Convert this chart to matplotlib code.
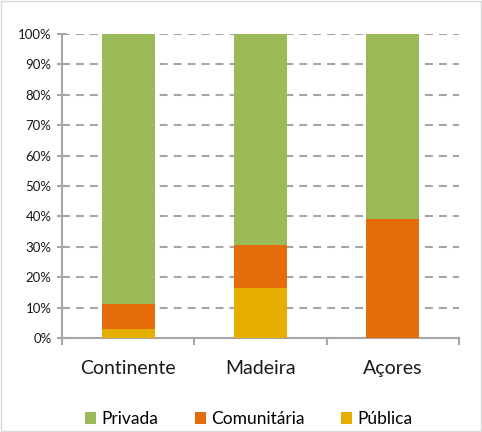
import matplotlib
matplotlib.use("Agg")
import matplotlib.pyplot as plt
from matplotlib.patches import Rectangle
import numpy as np

plt.rcParams['font.family'] = ['Lato', 'DejaVu Sans']

regions = ["Continente", "Madeira", "Açores"]
publica = [2.8, 16.4, 0.0]
comunitaria = [8.4, 14.1, 39.1]
privada = [88.8, 69.5, 60.9]

c_priv = "#9BBB59"
c_com = "#E46C0A"
c_pub = "#E6AF00"
axis_grey = "#A6A6A6"

fig = plt.figure(figsize=(4.82, 4.32), dpi=100)
ax = fig.add_axes([0.1286, 0.2176, 0.8234, 0.7037])

x = np.arange(len(regions))
w = 0.4
pub = np.array(publica)
com = np.array(comunitaria)
pri = np.array(privada)
b1 = ax.bar(x, pub, w, color=c_pub, label="Pública", zorder=3)
b2 = ax.bar(x, com, w, bottom=pub, color=c_com, label="Comunitária", zorder=3)
b3 = ax.bar(x, pri, w, bottom=pub + com, color=c_priv, label="Privada", zorder=3)

ax.set_xlim(-0.5, len(regions) - 0.5)
ax.set_ylim(0, 100)
ax.set_yticks(np.arange(0, 101, 10))
ax.set_yticklabels([f"{v}%" for v in range(0, 101, 10)], fontsize=9.5, color="#1a1a1a")
ax.yaxis.grid(True, linestyle=(0, (3.8, 2.9)), color=axis_grey, linewidth=1.5, zorder=0)
ax.set_axisbelow(True)

ax.set_xticks(x)
ax.set_xticklabels(regions, fontsize=14, color="#1a1a1a")
ax.tick_params(axis='x', length=0, pad=15.5)
ax.set_xticks(np.arange(-0.5, len(regions), 1.0), minor=True)
ax.tick_params(axis='x', which='minor', length=5, width=1.5, color=axis_grey)
ax.tick_params(axis='y', length=7, width=1.5, color=axis_grey, direction='inout', pad=4)

for s in ["top", "right"]:
    ax.spines[s].set_visible(False)
for s in ["left", "bottom"]:
    ax.spines[s].set_color(axis_grey)
    ax.spines[s].set_linewidth(1.5)

handles = [b3, b2, b1]
fig.legend(handles, [h.get_label() for h in handles], loc="center",
           bbox_to_anchor=(0.516, 0.030), ncol=3, frameon=False, fontsize=12.5,
           handlelength=0.63, handleheight=0.63, columnspacing=2.1, handletextpad=0.3)

fig.patches.append(Rectangle((0.002, 0.002), 0.996, 0.996, transform=fig.transFigure,
                             fill=False, edgecolor="#D9D9D9", linewidth=1.0))

fig.savefig("out.png", dpi=100, facecolor="white")
